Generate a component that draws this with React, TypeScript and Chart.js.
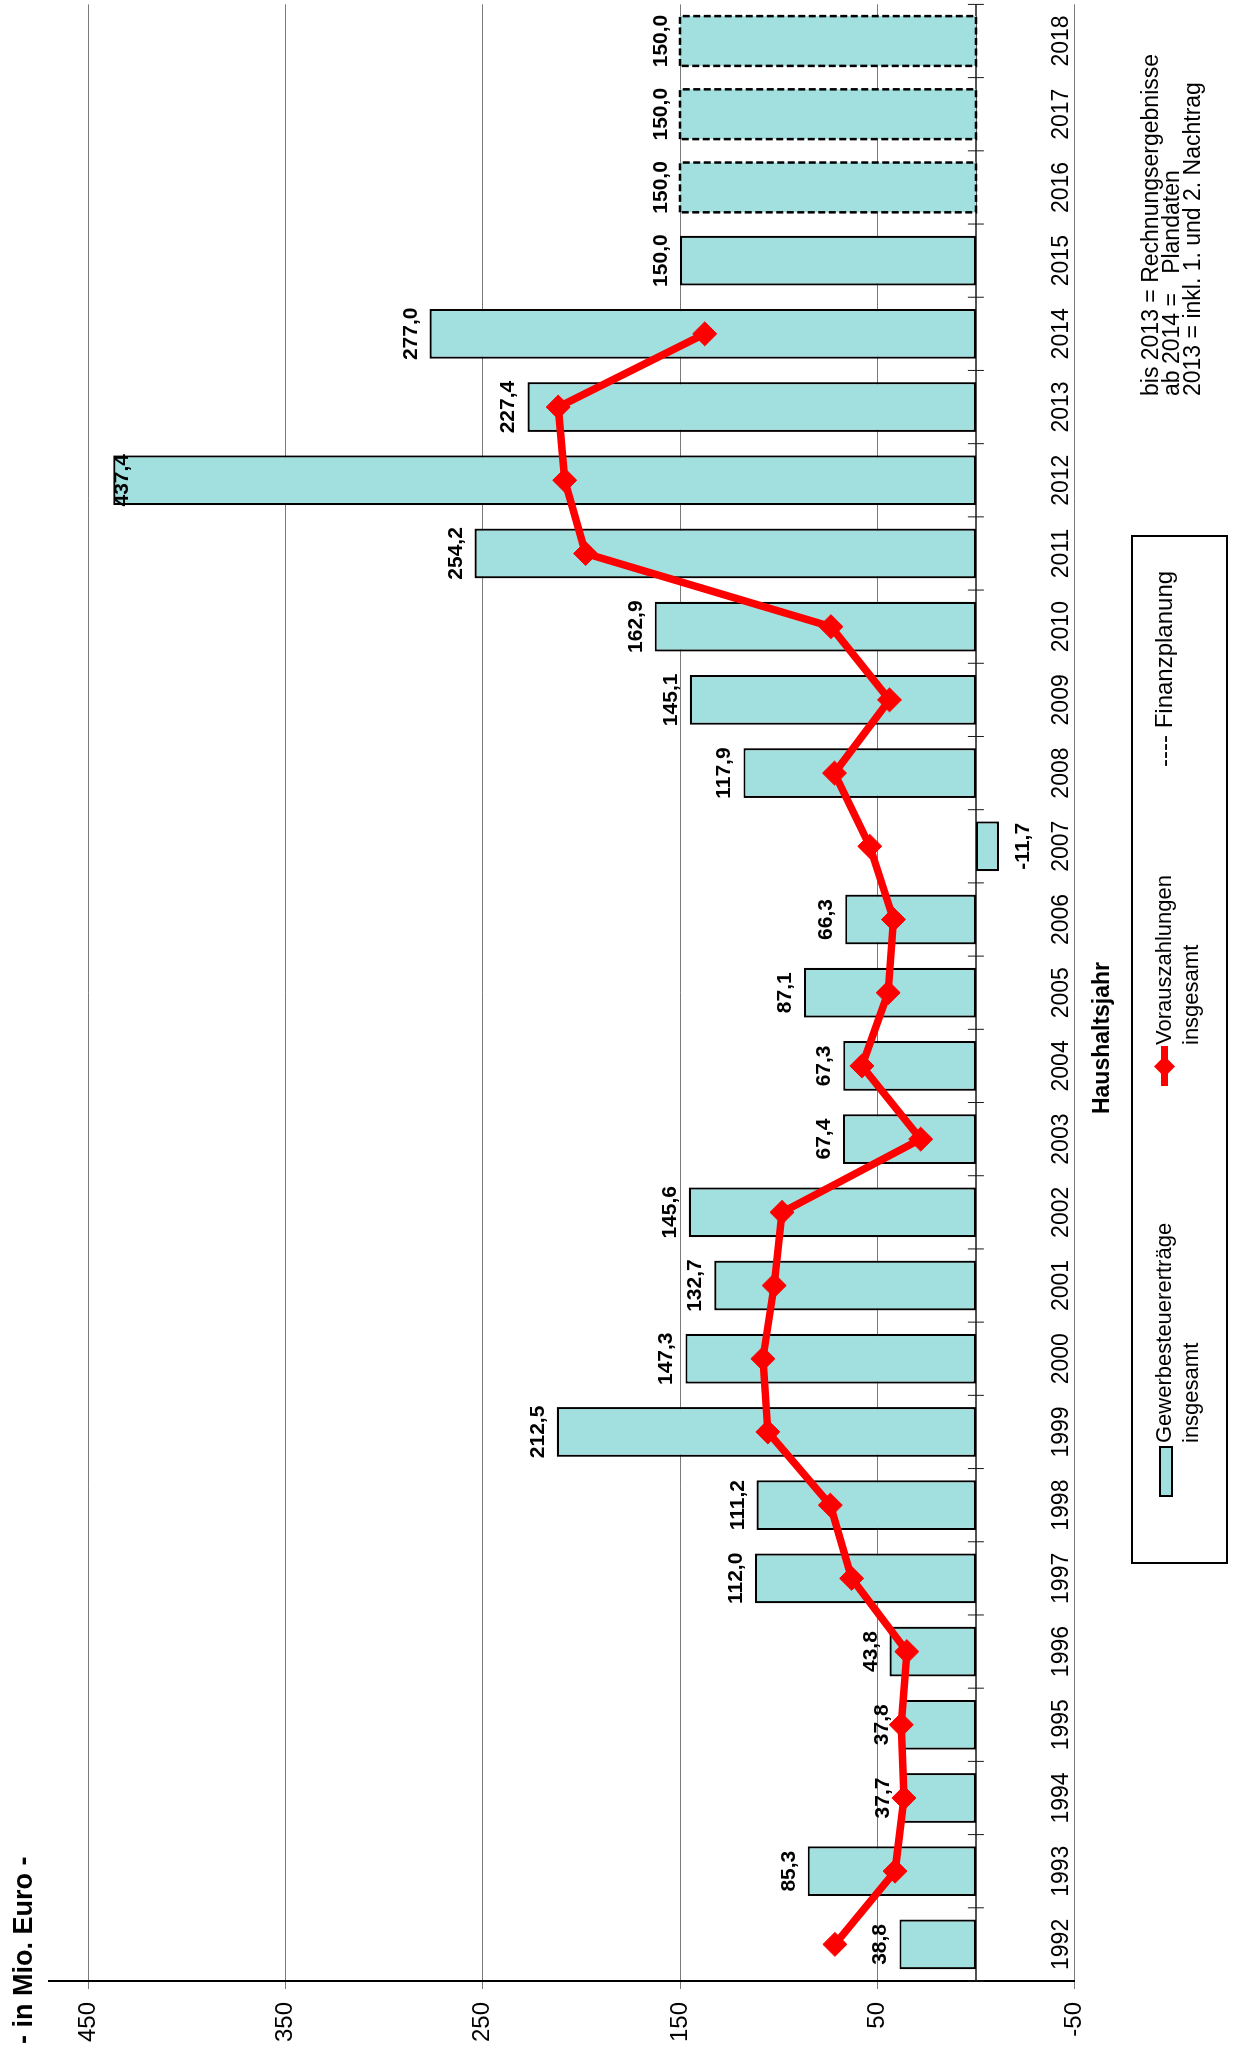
import React, { useEffect, useRef } from "react";
import { Chart, registerables } from "chart.js";

Chart.register(...registerables);

const FONT = '"Liberation Sans", Arial, Helvetica, sans-serif';

// ---- data ----
const years = [
  "1992", "1993", "1994", "1995", "1996", "1997", "1998", "1999", "2000",
  "2001", "2002", "2003", "2004", "2005", "2006", "2007", "2008", "2009",
  "2010", "2011", "2012", "2013", "2014", "2015", "2016", "2017", "2018",
];
const gewerbesteuerertraege = [
  38.8, 85.3, 37.7, 37.8, 43.8, 112.0, 111.2, 212.5, 147.3,
  132.7, 145.6, 67.4, 67.3, 87.1, 66.3, -11.7, 117.9, 145.1,
  162.9, 254.2, 437.4, 227.4, 277.0, 150.0, 150.0, 150.0, 150.0,
];
const vorauszahlungen: (number | null)[] = [
  71.5, 41.0, 36.5, 37.8, 35.0, 63.0, 73.8, 105.5, 108.0,
  102.3, 98.3, 28.0, 57.8, 44.5, 41.8, 53.8, 71.7, 43.8,
  73.5, 197.9, 208.5, 211.8, 137.5, null, null, null, null,
];
const finanzplanungYears = ["2016", "2017", "2018"];
const valueTicks = [-50, 50, 150, 250, 350, 450];
const valueMin = -50;
const valueMax = 470;

const BAR_FILL = "#A2E0E0";
const LINE_RED = "#FF0000";

const INNER_W = 2070;
const INNER_H = 1241;

const fmt = (v: number) => v.toFixed(1).replace(".", ",");

const overlayPlugin = {
  id: "overlay",
  beforeDatasetsDraw(chart: any) {
    const { ctx, chartArea, scales } = chart;
    const xs = scales.x;
    const ys = scales.y;
    const y0 = ys.getPixelForValue(0);
    ctx.save();
    ctx.strokeStyle = "#1a1a1a";
    ctx.lineWidth = 1.5;
    ctx.beginPath();
    ctx.moveTo(chartArea.left, y0);
    ctx.lineTo(chartArea.right, y0);
    ctx.stroke();
    const step = xs.getPixelForValue(1) - xs.getPixelForValue(0);
    const first = xs.getPixelForValue(0) - step / 2;
    ctx.lineWidth = 1;
    ctx.beginPath();
    for (let i = 0; i <= years.length; i++) {
      const px = first + i * step;
      ctx.moveTo(px, y0 - 8);
      ctx.lineTo(px, y0 + 8);
    }
    ctx.stroke();

    // category labels (years), placed just inside the lower plot edge
    ctx.fillStyle = "#000";
    ctx.font = `23px ${FONT}`;
    ctx.textAlign = "center";
    ctx.textBaseline = "middle";
    xs.ticks.forEach((t: any, i: number) => {
      ctx.fillText(String(xs.getLabelForValue(t.value)), xs.getPixelForTick(i), chartArea.bottom - 13);
    });
    ctx.restore();
  },
  afterDatasetsDraw(chart: any) {
    const { ctx, scales } = chart;
    const ys = scales.y;
    const meta = chart.getDatasetMeta(0);
    ctx.save();
    meta.data.forEach((el: any, i: number) => {
      const { x, y, base, width } = el.getProps(["x", "y", "base", "width"], true);
      if (finanzplanungYears.includes(years[i])) {
        ctx.setLineDash([7, 3.5]);
        ctx.lineWidth = 2.5;
        ctx.strokeStyle = "#000";
        ctx.strokeRect(x - width / 2, Math.min(y, base), width, Math.abs(base - y));
        ctx.setLineDash([]);
      }
      const v = gewerbesteuerertraege[i];
      ctx.fillStyle = "#000";
      ctx.font = `bold 21px ${FONT}`;
      ctx.textAlign = "center";
      if (v >= 0) {
        ctx.textBaseline = "alphabetic";
        const limit = ys.getPixelForValue(valueTicks[valueTicks.length - 1]) + 40;
        const ty = Math.max(y - 13, limit);
        ctx.fillText(fmt(v), x, ty);
      } else {
        ctx.textBaseline = "top";
        ctx.fillText(fmt(v), x, y + 14);
      }
    });
    ctx.restore();
  },
};

export default function App() {
  const ref = useRef<HTMLCanvasElement>(null);

  useEffect(() => {
    Chart.defaults.font.family = FONT;
    Chart.defaults.color = "#000";
    const chart = new Chart(ref.current as HTMLCanvasElement, {
      type: "bar",
      data: {
        labels: years,
        datasets: [
          {
            type: "bar",
            label: "Gewerbesteuererträge insgesamt",
            data: gewerbesteuerertraege,
            backgroundColor: BAR_FILL,
            borderColor: "#000",
            borderWidth: (c: any) => (finanzplanungYears.includes(years[c.dataIndex]) ? 0 : 2.2),
            borderSkipped: false,
            barPercentage: 0.68,
            categoryPercentage: 1,
            order: 2,
          } as any,
          {
            type: "line",
            label: "Vorauszahlungen insgesamt",
            data: vorauszahlungen,
            borderColor: LINE_RED,
            backgroundColor: LINE_RED,
            borderWidth: 7.5,
            pointStyle: "rectRot",
            pointRadius: 12,
            pointBorderWidth: 1,
            pointBackgroundColor: LINE_RED,
            pointBorderColor: LINE_RED,
            tension: 0,
            spanGaps: false,
            order: 1,
          } as any,
        ],
      },
      options: {
        animation: false,
        responsive: false,
        devicePixelRatio: 1,
        layout: { padding: { top: 49, right: 19.4, bottom: 0, left: 0 } },
        plugins: { legend: { display: false }, tooltip: { enabled: false } },
        scales: {
          x: {
            type: "category",
            offset: true,
            grid: { display: false, drawTicks: false },
            border: { display: false },
            ticks: { display: false, autoSkip: false, maxRotation: 0, minRotation: 0 },
            afterFit: (s: any) => {
              s.height = 166.5;
            },
          },
          y: {
            type: "linear",
            min: valueMin,
            max: valueMax,
            grid: { color: "#7a7a7a", lineWidth: 1, drawTicks: true, tickLength: 8 },
            border: { display: true, color: "#000", width: 2 },
            ticks: {
              color: "#000",
              font: { size: 24 },
              padding: 13,
              callback: (v: any) => String(v),
            },
            afterBuildTicks: (s: any) => {
              s.ticks = valueTicks.map((v) => ({ value: v }));
            },
            afterFit: (s: any) => {
              s.width = 74;
            },
          },
        },
      } as any,
      plugins: [overlayPlugin],
    });
    return () => chart.destroy();
  }, []);

  const legendText: React.CSSProperties = {
    position: "absolute",
    fontSize: 22,
    lineHeight: "27px",
    color: "#000",
    whiteSpace: "nowrap",
  };

  return (
    <div
      style={{
        position: "absolute",
        left: 0,
        top: 0,
        width: 1241,
        height: 2055,
        overflow: "hidden",
        background: "#fff",
      }}
    >
      <div
        style={{
          position: "absolute",
          left: 0,
          top: 0,
          width: INNER_W,
          height: INNER_H,
          transformOrigin: "0 0",
          transform: "translate(0px, 2055px) rotate(-90deg)",
          fontFamily: FONT,
        }}
      >
        <canvas
          ref={ref}
          width={INNER_W}
          height={INNER_H}
          style={{ position: "absolute", left: 0, top: 0, width: INNER_W, height: INNER_H }}
        />
        <div
          style={{
            position: "absolute",
            left: 11,
            top: 10,
            fontSize: 27,
            fontWeight: "bold",
            lineHeight: 1,
            whiteSpace: "nowrap",
          }}
        >
          - in Mio. Euro -
        </div>
        <div
          style={{
            position: "absolute",
            left: 817,
            width: 400,
            top: 1090,
            textAlign: "center",
            fontSize: 23,
            fontWeight: "bold",
            lineHeight: 1,
            whiteSpace: "nowrap",
          }}
        >
          Haushaltsjahr
        </div>
        <div
          style={{
            position: "absolute",
            left: 491,
            top: 1131,
            width: 1029,
            height: 97,
            border: "2.5px solid #000",
            boxSizing: "border-box",
          }}
        />
        <div
          style={{
            position: "absolute",
            left: 558,
            top: 1159,
            width: 51,
            height: 14,
            background: BAR_FILL,
            border: "2px solid #000",
            boxSizing: "border-box",
          }}
        />
        <div style={{ ...legendText, left: 612, top: 1150 }}>
          Gewerbesteuererträge
          <br />
          insgesamt
        </div>
        <div
          style={{
            position: "absolute",
            left: 969,
            top: 1161,
            width: 40,
            height: 7,
            background: LINE_RED,
          }}
        />
        <div
          style={{
            position: "absolute",
            left: 981,
            top: 1157,
            width: 15,
            height: 15,
            background: LINE_RED,
            transform: "rotate(45deg)",
          }}
        />
        <div style={{ ...legendText, left: 1010, top: 1150 }}>
          Vorauszahlungen
          <br />
          insgesamt
        </div>
        <div style={{ ...legendText, left: 1288, top: 1150, fontSize: 24 }}>---- Finanzplanung</div>
        <div
          style={{
            position: "absolute",
            left: 1659,
            top: 1140,
            fontSize: 23,
            lineHeight: "21px",
            whiteSpace: "pre",
            color: "#000",
          }}
        >
          {"bis 2013 = Rechnungsergebnisse\nab 2014 =   Plandaten\n2013 = inkl. 1. und 2. Nachtrag"}
        </div>
      </div>
    </div>
  );
}
